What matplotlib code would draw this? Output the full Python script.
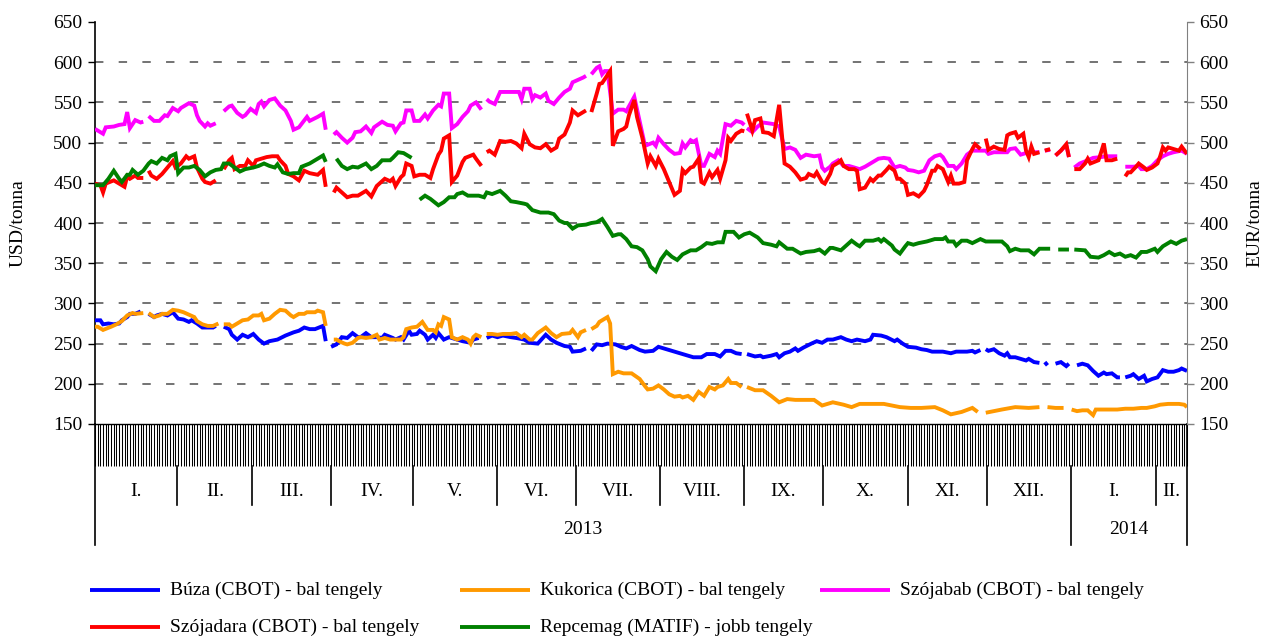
import numpy as np
import matplotlib.pyplot as plt
from matplotlib.lines import Line2D

plt.rcParams['font.family'] = ['Liberation Serif', 'DejaVu Serif']
plt.rcParams['font.size'] = 14

# x = day counted from 1 Jan 2013, None = no quotation (break in line)
buza = [(0,279),(2,279),(3,274),(5,275),(7,274),(9,275),(10,279),(12,283),(13,287),(15,287),(17,290),
        None,
        (20,287),(22,283),(23,285),(25,287),(27,285),(29,289),(31,281),(33,280),(35,277),(36,279),(38,275),
        (40,270),(42,270),(44,270),(45,272),
        None,
        (48,271),(50,268),(51,261),(53,255),(55,261),(57,258),(59,262),(61,255),(63,250),(65,253),(68,255),
        (71,260),(74,264),(76,266),(78,270),(80,268),(82,268),(85,272),(86,253),
        None,
        (88,246),(90,249),(92,258),(94,257),(96,263),(98,258),(99,258),(101,263),(103,258),(105,258),(107,257),
        (108,261),(111,257),(112,255),(114,258),(115,255),(117,266),(118,261),(120,262),(121,266),(123,261),
        (124,255),(126,261),(127,257),(128,263),(130,255),(132,258),(135,255),(137,253),(140,251),(141,255),(143,257),
        None,
        (146,257),(148,260),(150,258),(152,260),(155,258),(157,257),(160,255),(162,251),(165,250),(168,261),
        (170,255),(172,251),(175,247),(177,246),(178,240),(181,241),(183,244),
        None,
        (185,241),(187,249),(189,248),(191,250),(194,249),(196,246),(198,244),(200,247),(203,242),(205,240),
        (208,241),(210,246),(213,243),(215,241),(218,238),(220,236),(223,233),(226,233),(228,237),(231,237),
        (233,234),(235,241),(237,241),(239,238),(241,237),
        None,
        (243,237),(246,234),(248,235),(249,233),(252,235),(254,237),(255,233),(257,238),(259,240),(261,244),
        (262,241),(264,245),(267,250),(269,253),(271,251),(273,255),(275,255),(278,258),(280,255),(282,253),
        (284,255),(287,253),(289,255),(290,261),(293,260),(295,258),(298,253),(299,255),(301,250),(303,246),
        (306,245),(308,243),(310,242),(312,240),(314,240),(316,240),(319,238),(321,240),(323,240),(325,240),
        (327,241),(328,239),(330,242),
        None,
        (332,243),(333,241),(335,243),(337,238),(339,235),(340,238),(341,233),(343,233),(345,231),(347,229),
        (348,231),(350,227),(352,226),
        None,
        (354,227),(355,223),
        None,
        (358,225),(360,227),(362,222),(363,225),
        None,
        (366,223),(368,225),(370,223),(372,216),(374,210),(376,214),(377,212),(379,213),(381,208),(382,208),
        None,
        (384,208),(386,210),(387,212),(389,206),(391,210),(392,203),(394,206),(396,208),(398,217),(400,215),
        (402,215),(404,217),(405,219),(407,216)]

kukorica = [(0,271),(1,271),(3,267),(6,271),(8,274),(10,278),(12,285),(14,288),(15,287),(18,288),
            None,
            (20,288),(22,283),(24,285),(25,287),(27,287),(29,292),(31,291),(33,289),(35,286),(37,283),(38,278),
            (40,274),(42,272),(44,272),(46,275),
            None,
            (48,274),(50,274),(51,271),(53,275),(55,279),(57,280),(59,285),(61,285),(62,287),(63,279),(65,281),
            (67,287),(69,292),(71,291),(73,285),(74,283),(76,287),(78,287),(79,289),(82,289),(83,291),(85,289),(86,272),
            None,
            (89,255),(90,255),(91,253),(93,250),(94,249),(96,251),(98,257),(99,258),(101,257),(103,258),(105,261),
            (106,255),(108,257),(110,255),(112,255),(114,255),(115,258),(116,268),(118,270),(120,271),(121,274),
            (122,277),(124,267),(126,267),(127,264),(128,274),(129,272),(130,283),(132,280),(133,258),(135,255),
            (137,258),(139,255),(140,250),(141,258),(142,261),(144,258),
            None,
            (146,262),(148,262),(150,261),(152,262),(155,262),(157,263),(159,258),(160,261),(162,255),(163,255),
            (165,263),(168,270),(170,263),(172,258),(174,262),(177,263),(178,267),(180,258),(181,264),(183,267),
            None,
            (185,268),(187,272),(188,277),(191,283),(192,275),(193,212),(195,215),(197,213),(200,213),(203,206),
            (205,197),(206,193),(208,194),(210,198),(212,193),(214,187),(216,184),(218,185),(219,183),(221,185),
            (223,180),(225,190),(227,185),(229,196),(231,193),(232,196),(234,198),(236,206),(237,201),(239,201),(241,196),
            None,
            (243,196),(246,192),(249,192),(252,185),(255,177),(258,181),(261,180),(265,180),(268,180),(271,173),
            (275,177),(279,174),(282,171),(285,175),(290,175),(294,175),(297,173),(300,171),(304,170),(308,170),
            (313,171),(316,167),(319,162),(323,165),(327,170),(329,165),
            None,
            (332,164),(335,166),(338,168),(343,171),(348,170),(352,171),
            None,
            (355,171),(358,170),(361,170),
            None,
            (364,168),(366,166),(368,167),(370,167),(372,161),(373,168),(376,168),(379,168),(381,168),(384,169),
            (387,169),(390,170),(392,170),(395,172),(397,174),(400,175),(404,175),(406,174),(407,171)]

szojabab = [(0,517),(3,511),(4,519),(7,520),(9,522),(11,523),(12,538),(13,518),(15,528),(17,525),(18,526),
            None,
            (20,533),(22,527),(24,527),(26,534),(27,533),(29,543),(31,539),(32,543),(35,549),(37,546),(38,534),
            (39,527),(41,520),(42,524),(43,521),(45,524),
            None,
            (48,539),(50,545),(51,546),(53,537),(55,532),(56,534),(58,542),(60,537),(61,548),(62,551),(63,545),
            (65,553),(67,555),(69,546),(71,540),(73,527),(74,516),(76,519),(79,532),(80,527),(83,532),(85,536),(86,516),
            None,
            (89,510),(90,513),(92,506),(94,500),(96,506),(97,513),(99,514),(101,520),(103,512),(104,519),(107,526),
            (109,522),(111,521),(112,514),(114,524),(115,525),(116,540),(118,540),(119,527),(121,527),(123,535),
            (124,530),(126,540),(128,547),(129,545),(130,561),(132,561),(133,518),(135,523),(137,532),(139,539),
            (140,546),(142,550),(144,541),
            None,
            (146,554),(147,551),(149,548),(151,563),(155,563),(158,563),(159,554),(160,567),(162,567),(163,554),
            (164,559),(166,556),(168,561),(169,552),(171,548),(173,556),(175,563),(177,567),(178,575),(180,578),
            (182,581),(183,583),
            None,
            (185,585),(187,593),(188,595),(189,585),(190,589),(191,589),(193,536),(195,541),(197,541),(198,539),
            (201,557),(205,496),(208,500),(209,496),(210,506),(212,498),(214,491),(216,486),(218,487),(219,499),
            (220,494),(222,503),(223,501),(224,503),(226,471),(227,471),(229,486),(231,482),(232,490),(233,486),
            (235,523),(237,521),(239,527),(241,525),(242,522),
            None,
            (243,518),(245,513),(247,520),(249,525),(251,524),(253,523),(255,520),(257,492),(259,494),(261,491),
            (263,481),(265,485),(268,483),(270,484),(271,469),(272,465),(274,470),(275,474),(277,478),(279,471),
            (281,471),(283,469),(285,467),(287,470),(289,474),(290,476),(292,480),(294,481),(296,480),(298,469),
            (300,471),(302,469),(303,466),(305,465),(307,463),(309,465),(311,478),(313,483),(315,485),(316,482),
            (318,471),(320,471),(321,467),(323,474),(325,485),(327,490),(330,490),(332,490),(333,486),(335,488),
            (338,488),(340,488),(341,492),(343,493),(345,485),(347,487),(349,488),(352,488),
            None,
            (354,490),(356,491),
            None,
            (358,484),(360,490),(362,497),(363,482),
            None,
            (365,469),(367,474),(370,478),(372,481),(375,482),(377,483),(381,483),
            None,
            (384,470),(387,470),(389,471),(390,467),(392,467),(394,471),(396,478),(398,483),(400,486),(402,488),
            (405,490),(407,486)]

szojadara = [(0,449),(2,447),(3,438),(4,449),(7,453),(9,449),(11,445),(12,458),(13,455),(15,459),(16,456),(18,456),
             None,
             (20,465),(21,459),(23,455),(25,461),(27,469),(29,477),(30,469),(32,474),(34,483),(35,480),(37,483),
             (38,469),(40,455),(41,451),(43,449),(45,453),
             None,
             (48,467),(50,478),(51,481),(52,467),(54,471),(56,471),(57,478),(59,471),(60,478),(62,480),(64,482),
             (66,483),(68,483),(69,478),(71,471),(72,461),(74,458),(76,453),(78,465),(80,462),(83,460),(85,466),(86,445),
             None,
             (89,438),(90,444),(92,438),(94,432),(96,434),(98,434),(101,440),(103,433),(105,446),(107,452),(108,455),
             (110,452),(111,455),(112,446),(114,457),(115,460),(116,474),(118,471),(119,458),(121,460),(123,460),
             (125,456),(126,467),(128,485),(129,490),(130,505),(132,509),(133,451),(135,459),(137,476),(138,481),
             (141,485),(142,480),(144,471),
             None,
             (146,488),(147,490),(149,485),(151,502),(153,501),(155,502),(157,499),(159,493),(160,511),(162,498),
             (164,494),(166,493),(168,498),(170,490),(172,494),(173,505),(175,510),(177,525),(178,540),(180,534),
             (182,538),(183,540),
             None,
             (185,538),(187,561),(188,573),(189,574),(192,589),(193,496),(195,514),(197,517),(198,520),(199,534),
             (201,553),(202,532),(204,506),(206,474),(207,483),(209,471),(210,480),(212,467),(214,451),(216,435),
             (218,440),(219,466),(220,462),(222,469),(223,470),(225,480),(226,451),(227,449),(229,463),(230,457),
             (232,466),(233,455),(235,478),(236,506),(237,502),(239,511),(241,515),(242,514),
             None,
             (243,536),(245,515),(246,528),(248,530),(249,513),(251,512),(253,508),(255,547),(257,474),(259,470),
             (261,463),(263,454),(265,456),(266,461),(268,458),(269,463),(271,451),(272,449),(274,461),(275,471),
             (277,475),(278,478),(279,471),(281,467),(283,467),(284,465),(285,442),(287,444),(289,455),(290,452),
             (292,459),(293,459),(295,466),(296,470),(298,465),(299,455),(300,455),(302,449),(303,435),(305,437),
             (307,433),(309,440),(310,447),(312,465),(313,465),(314,471),(316,467),(318,451),(319,459),(320,449),
             (322,449),(324,451),(325,478),(327,492),(328,498),(330,492),
             None,
             (332,505),(333,491),(335,495),(337,492),(339,491),(340,509),(341,511),(343,513),(344,506),(346,511),
             (347,490),(348,482),(349,495),(350,486),(352,488),
             None,
             (354,490),(356,492),
             None,
             (358,484),(360,490),(362,498),(363,482),
             None,
             (365,467),(367,467),(369,474),(370,480),(371,474),(374,478),(375,488),(376,499),(377,478),(379,478),(381,480),
             None,
             (384,458),(385,463),(386,463),(388,470),(389,474),(391,469),(392,466),(394,469),(396,474),(397,483),
             (398,494),(399,490),(400,494),(402,492),(404,490),(405,495),(407,486)]

repcemag = [(0,447),(3,447),(5,455),(7,465),(9,455),(10,451),(12,460),(13,460),(14,466),(16,460),(18,465),
            (20,474),(21,477),(23,474),(25,481),(27,478),(28,483),(30,486),(31,462),(33,469),(35,469),(37,471),
            (39,466),(41,458),(43,463),(45,466),(47,467),(48,474),(50,474),(52,469),(54,464),(56,467),(59,469),
            (61,471),(63,474),(65,471),(67,469),(68,473),(70,463),(72,461),(74,462),(76,462),(77,470),(80,474),
            (82,478),(85,484),(86,476),
            None,
            (90,480),(92,471),(94,467),(96,470),(98,469),(101,474),(103,467),(105,471),(107,478),(110,478),
            (111,481),(113,488),(115,487),(117,483),(118,481),
            None,
            (121,429),(123,434),(125,430),(128,422),(130,426),(132,432),(134,432),(135,436),(137,438),(139,434),
            (141,434),(143,434),(145,432),(146,438),(148,436),(151,440),(153,434),(155,427),(157,426),(160,424),
            (161,423),(163,416),(166,413),(169,413),(171,411),(173,403),(175,400),(176,400),(178,393),(180,397),
            (183,398),(185,400),(187,401),(189,405),(191,395),(193,384),(195,386),(196,386),(198,380),(200,371),
            (202,370),(204,366),(206,355),(207,346),(209,340),(211,355),(213,364),(215,358),(217,354),(219,361),
            (222,366),(224,366),(226,370),(228,375),(230,374),(232,376),(234,376),(235,389),(238,389),(240,382),
            (242,386),(244,388),(246,384),(247,382),(249,375),(252,373),(254,371),(255,376),(258,368),(260,368),
            (263,362),(265,364),(268,365),(270,367),(272,362),(274,369),(275,369),(278,366),(280,372),(282,378),
            (284,373),(285,371),(287,378),(290,378),(292,380),(293,377),(294,380),(297,372),(298,367),(300,362),
            (302,371),(303,375),(305,373),(307,375),(310,377),(311,378),(313,380),(316,380),(317,382),(318,377),
            (320,377),(321,372),(323,378),(325,378),(327,375),(330,380),(332,377),(335,377),(338,377),(340,371),
            (341,365),(343,368),(345,366),(348,366),(350,361),(352,368),(356,368),
            None,
            (359,367),(363,367),
            None,
            (365,367),(369,366),(371,358),(374,357),(376,360),(378,364),(380,360),(382,362),(384,358),(386,360),
            (388,357),(390,364),(392,364),(395,368),(396,364),(398,371),(401,377),(403,374),(405,378),(407,380)]

# month borders on the day axis
month_borders = [0, 30.7, 58.6, 88, 118.4, 149.8, 179.3, 210.6, 241.9, 271.3, 303, 332.5, 363.8, 395.5, 407]
month_names = ['I.', 'II.', 'III.', 'IV.', 'V.', 'VI.', 'VII.', 'VIII.', 'IX.', 'X.', 'XI.', 'XII.', 'I.', 'II.']
year_borders = [0, 363.8, 407]
year_names = ['2013', '2014']

series_names = ['Búza (CBOT) - bal tengely', 'Kukorica (CBOT) - bal tengely', 'Szójabab (CBOT) - bal tengely',
                'Szójadara (CBOT) - bal tengely', 'Repcemag (MATIF) - jobb tengely']
colors = ['#0000FF', '#FF9900', '#FF00FF', '#FF0000', '#008000']


def split(pairs):
    x = [p[0] if p else np.nan for p in pairs]
    y = [p[1] if p else np.nan for p in pairs]
    return np.array(x, float), np.array(y, float)


W, H = 1271, 639
fig = plt.figure(figsize=(W / 100, H / 100), dpi=100)
ax = fig.add_axes([95 / W, 1 - 424 / H, (1187 - 95) / W, 402 / H])
ax2 = ax.twinx()

lw = 2.8
for data, c in zip([buza, kukorica, szojabab, szojadara], colors[:4]):
    x, y = split(data)
    ax.plot(x, y, color=c, lw=lw, solid_capstyle='butt', solid_joinstyle='miter', zorder=3)
x, y = split(repcemag)
ax2.plot(x, y, color=colors[4], lw=lw, solid_capstyle='butt', solid_joinstyle='miter', zorder=3)

for a in (ax, ax2):
    a.set_xlim(0, 407)
    a.set_ylim(150, 650)
    a.set_yticks(np.arange(150, 651, 50))
    a.spines['top'].set_visible(False)

for v in range(200, 601, 50):
    ax.axhline(v, color='#4d4d4d', lw=1.1, dashes=(5.5, 10), zorder=1)

ax.spines['right'].set_visible(False)
ax2.spines['left'].set_visible(False)
ax2.spines['bottom'].set_visible(False)
ax2.spines['right'].set_color('#808080')
ax.spines['left'].set_linewidth(1.2)
ax.spines['bottom'].set_linewidth(1.0)

ax.tick_params(axis='y', length=5, width=1, direction='out', pad=4, labelsize=14)
ax2.tick_params(axis='y', length=5, width=1, direction='out', pad=4, labelsize=14, color='#808080')

# daily ticks on the time axis
ax.set_xticks(np.arange(0, 408, 1))
ax.tick_params(axis='x', length=30, width=0.75, direction='out', labelbottom=False)
ax2.tick_params(axis='x', bottom=False)

tr = ax.get_xaxis_transform()
y_tick_end = -42 / 402
y_month_end = -81 / 402
y_year_end = -121 / 402
for b in month_borders[1:-1]:
    if b not in year_borders:
        ax.plot([b, b], [y_tick_end, y_month_end], color='black', lw=1.2, transform=tr, clip_on=False)
ax.plot([0, 0], [0, y_year_end], color='black', lw=1.2, transform=tr, clip_on=False)
ax.plot([363.8, 363.8], [y_tick_end, y_year_end], color='black', lw=1.2, transform=tr, clip_on=False)
ax.plot([407, 407], [0, y_year_end], color='black', lw=1.2, transform=tr, clip_on=False)

for i, name in enumerate(month_names):
    ax.text((month_borders[i] + month_borders[i + 1]) / 2, -68 / 402, name, transform=tr,
            ha='center', va='center', fontsize=14)
for i, name in enumerate(year_names):
    ax.text((year_borders[i] + year_borders[i + 1]) / 2, -106 / 402, name, transform=tr,
            ha='center', va='center', fontsize=14)

fig.text(18 / W, 1 - 223 / H, 'USD/tonna', rotation=90, ha='center', va='center', fontsize=14)
fig.text(1255 / W, 1 - 223 / H, 'EUR/tonna', rotation=90, ha='center', va='center', fontsize=14)

# legend, drawn by hand in figure pixels
legend_pos = [(90, 590), (460, 590), (820, 590), (90, 627), (460, 627)]
for (lx, ly), name, c in zip(legend_pos, series_names, colors):
    fig.add_artist(Line2D([lx / W, (lx + 70) / W], [1 - ly / H, 1 - ly / H], color=c, lw=lw,
                          solid_capstyle='butt'))
    fig.text((lx + 80) / W, 1 - ly / H, name, ha='left', va='center', fontsize=14)

fig.savefig('out.png', dpi=100)
